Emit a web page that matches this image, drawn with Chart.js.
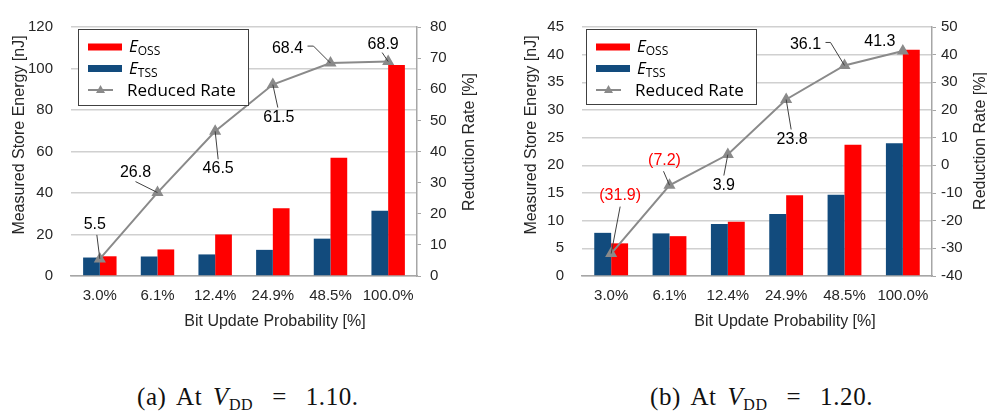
<!DOCTYPE html>
<html>
<head>
<meta charset="utf-8">
<script src="https://cdn.jsdelivr.net/npm/chart.js@4.4.0/dist/chart.umd.min.js"></script>
<style>
  body { margin: 0; background: #fff; }
  #wrap { position: relative; width: 987px; height: 414px; overflow: hidden; }
  canvas { position: absolute; top: 0; }
  #chartA { left: 0; }
  #chartB { left: 490px; }
  .caption { position: absolute; top: 386px; line-height: 22px; font-family: 'Liberation Serif', serif; font-size: 25px; letter-spacing: 0.6px; word-spacing: 4px; color: #111; white-space: nowrap; }
  .caption sub { font-size: 16px; vertical-align: -5px; line-height: 0; }
  .caption .eq { margin: 0 8px; }
</style>
</head>
<body>
<div id="wrap">
  <canvas id="chartA" width="490" height="340"></canvas>
  <canvas id="chartB" width="497" height="340"></canvas>
  <div class="caption" style="left:137px">(a) At <i>V</i><sub>DD</sub> <span class="eq">=</span> 1.10.</div>
  <div class="caption" style="left:650px">(b) At <i>V</i><sub>DD</sub> <span class="eq">=</span> 1.20.</div>
</div>
<script>
const categories = ['3.0%', '6.1%', '12.4%', '24.9%', '48.5%', '100.0%'];

// (a) VDD = 1.10
const ossA = [9.5, 12.8, 20.0, 32.6, 57.0, 101.7];
const tssA = [8.9, 9.4, 10.4, 12.6, 18.0, 31.5];
const rateA = [5.5, 26.8, 46.5, 61.5, 68.4, 68.9];

// (b) VDD = 1.20
const ossB = [5.9, 7.2, 9.8, 14.6, 23.7, 40.9];
const tssB = [7.8, 7.7, 9.4, 11.2, 14.7, 24.0];
const rateB = [-31.9, -7.2, 3.9, 23.8, 36.1, 41.3];

const BLUE = '#124b7d';
const RED = '#ff0000';
const GRAY = '#8a8a8a';
const TEXT = '#262626';
const SANS = '"Liberation Sans", Arial, sans-serif';

// label placement around each rate point: dx/dy = label centre from point,
// from = leader start relative to label centre, elbow = optional bend
const placeA = [
  { dx: -5, dy: -34, from: [2, 10] },
  { dx: -22, dy: -20, from: [0, 9] },
  { dx: 3, dy: 37, from: [0, -9] },
  { dx: 6, dy: 33, from: [-1, -10] },
  { dx: -43, dy: -15, from: [20, -2], elbow: [26, -2] },
  { dx: -5, dy: -17, from: [-1, 8] }
];
const placeB = [
  { dx: 9, dy: -58, from: [0, 11] },
  { dx: -5, dy: -25, from: [-1, 11] },
  { dx: -4, dy: 31, from: [0, -10] },
  { dx: 6, dy: 40, from: [-1, -10] },
  { dx: -39, dy: -21, from: [20, -2], elbow: [25, -2] },
  { dx: -23, dy: -9 }
];

const rateLabels = {
  id: 'rateLabels',
  afterDatasetsDraw(chart, args, opts) {
    const meta = chart.getDatasetMeta(2);
    const values = chart.data.datasets[2].data;
    const ctx = chart.ctx;
    ctx.save();
    ctx.font = '16px ' + SANS;
    ctx.textAlign = 'center';
    ctx.textBaseline = 'middle';
    meta.data.forEach((pt, i) => {
      const p = opts.place[i];
      const lx = pt.x + p.dx;
      const ly = pt.y + p.dy;
      if (p.from) {
        ctx.strokeStyle = '#404040';
        ctx.lineWidth = 1;
        ctx.beginPath();
        ctx.moveTo(lx + p.from[0], ly + p.from[1]);
        if (p.elbow) ctx.lineTo(lx + p.elbow[0], ly + p.elbow[1]);
        ctx.lineTo(pt.x, pt.y);
        ctx.stroke();
      }
      const v = values[i];
      ctx.fillStyle = v < 0 ? RED : '#000';
      ctx.fillText(v < 0 ? '(' + Math.abs(v).toFixed(1) + ')' : v.toFixed(1), lx, ly);
    });
    ctx.restore();
  }
};

const axisTitles = {
  id: 'axisTitles',
  afterDraw(chart, args, opts) {
    const ctx = chart.ctx;
    ctx.save();
    ctx.font = '16px ' + SANS;
    ctx.fillStyle = TEXT;
    ctx.textAlign = 'center';
    ctx.textBaseline = 'middle';
    opts.items.forEach(t => {
      ctx.save();
      ctx.translate(t.x, t.y);
      if (t.rot) ctx.rotate(t.rot);
      ctx.fillText(t.text, 0, 0);
      ctx.restore();
    });
    ctx.restore();
  }
};

const boxLegend = {
  id: 'boxLegend',
  afterDraw(chart, args, opts) {
    const ctx = chart.ctx;
    const { x, y, w, h } = opts.box;
    const sets = chart.data.datasets;
    ctx.save();
    ctx.fillStyle = '#fff';
    ctx.fillRect(x, y, w, h);
    ctx.strokeStyle = '#404040';
    ctx.lineWidth = 1;
    ctx.strokeRect(x + 0.5, y + 0.5, w, h);

    // bar entries: OSS first, then TSS
    [sets[1], sets[0]].forEach((ds, i) => {
      const cy = y + 18 + i * 21.5;
      ctx.fillStyle = ds.backgroundColor;
      ctx.fillRect(x + 10, cy - 3.5, 34, 7);
      const [main, sub] = ds.label.split('_');
      ctx.fillStyle = '#000';
      ctx.textBaseline = 'alphabetic';
      ctx.textAlign = 'left';
      ctx.font = 'italic 17px "Open Sans", sans-serif';
      ctx.fillText(main, x + 51, cy + 5);
      const mw = ctx.measureText(main).width;
      ctx.font = '12px "Open Sans", sans-serif';
      ctx.fillText(sub, x + 51 + mw, cy + 8);
    });

    // line entry
    const ly = y + 61;
    const line = sets[2];
    ctx.strokeStyle = line.borderColor;
    ctx.lineWidth = 2;
    ctx.beginPath();
    ctx.moveTo(x + 10, ly);
    ctx.lineTo(x + 35, ly);
    ctx.stroke();
    ctx.fillStyle = line.borderColor;
    ctx.beginPath();
    ctx.moveTo(x + 22.5, ly - 5);
    ctx.lineTo(x + 27, ly + 3);
    ctx.lineTo(x + 18, ly + 3);
    ctx.closePath();
    ctx.fill();
    ctx.fillStyle = '#000';
    ctx.font = '17px "Open Sans", sans-serif';
    ctx.textAlign = 'left';
    ctx.textBaseline = 'alphabetic';
    ctx.fillText(line.label, x + 49, ly + 6);
    ctx.restore();
  }
};

function makeChart(id, oss, tss, rate, cfg) {
  const ctx = document.getElementById(id).getContext('2d');
  return new Chart(ctx, {
    type: 'bar',
    data: {
      labels: categories,
      datasets: [
        { label: 'E_TSS', data: tss, backgroundColor: BLUE, yAxisID: 'y', order: 1 },
        { label: 'E_OSS', data: oss, backgroundColor: RED, yAxisID: 'y', order: 1 },
        {
          type: 'line',
          label: 'Reduced Rate',
          data: rate,
          yAxisID: 'y1',
          order: 0,
          borderColor: GRAY,
          backgroundColor: GRAY,
          borderWidth: 2,
          pointStyle: 'triangle',
          pointRadius: 5,
          pointBackgroundColor: GRAY,
          pointBorderColor: GRAY,
          tension: 0
        }
      ]
    },
    options: {
      responsive: false,
      animation: false,
      layout: { padding: { top: 16, left: 0, right: 0, bottom: 0 } },
      datasets: { bar: { categoryPercentage: 0.58, barPercentage: 1.0 } },
      plugins: {
        legend: { display: false },
        tooltip: { enabled: false },
        rateLabels: { place: cfg.place },
        axisTitles: { items: cfg.titles },
        boxLegend: { box: cfg.legendBox }
      },
      scales: {
        x: {
          grid: { display: false, drawTicks: false },
          border: { color: '#a6a6a6', width: 1.5 },
          ticks: { color: TEXT, font: { family: SANS, size: 15 }, padding: 11, maxRotation: 0 },
          afterFit(s) { s.height = 64; }
        },
        y: {
          position: 'left',
          min: cfg.yMin, max: cfg.yMax,
          ticks: { stepSize: cfg.yStep, color: TEXT, font: { family: SANS, size: 15 }, padding: 18 },
          grid: { color: '#d0d0d0', lineWidth: 1.5, drawTicks: false },
          border: { display: false },
          afterFit(s) { s.width = cfg.leftW; }
        },
        y1: {
          position: 'right',
          min: cfg.rMin, max: cfg.rMax,
          ticks: { stepSize: 10, color: TEXT, font: { family: SANS, size: 15 }, padding: cfg.rPad },
          grid: { drawOnChartArea: false, drawTicks: true, tickLength: 4, color: '#a6a6a6' },
          border: { color: '#a6a6a6', width: 1.5 },
          afterFit(s) { s.width = cfg.rightW; }
        }
      }
    },
    plugins: [rateLabels, axisTitles, boxLegend]
  });
}

document.addEventListener('DOMContentLoaded', () => {
  makeChart('chartA', ossA, tssA, rateA, {
    yMin: 0, yMax: 120, yStep: 20,
    rMin: 0, rMax: 80, rPad: 9,
    leftW: 71, rightW: 73,
    place: placeA,
    legendBox: { x: 78, y: 29, w: 170, h: 76 },
    titles: [
      { text: 'Measured Store Energy [nJ]', x: 20, y: 135, rot: -Math.PI / 2 },
      { text: 'Reduction Rate [%]', x: 470, y: 142, rot: -Math.PI / 2 },
      { text: 'Bit Update Probability [%]', x: 275, y: 322 }
    ]
  });

  makeChart('chartB', ossB, tssB, rateB, {
    yMin: 0, yMax: 45, yStep: 5,
    rMin: -40, rMax: 50, rPad: 5,
    leftW: 92, rightW: 55,
    place: placeB,
    legendBox: { x: 96, y: 29, w: 170, h: 75 },
    titles: [
      { text: 'Measured Store Energy [nJ]', x: 41.5, y: 135, rot: -Math.PI / 2 },
      { text: 'Reduction Rate [%]', x: 490.5, y: 141, rot: -Math.PI / 2 },
      { text: 'Bit Update Probability [%]', x: 295, y: 322 }
    ]
  });
});
</script>
</body>
</html>
